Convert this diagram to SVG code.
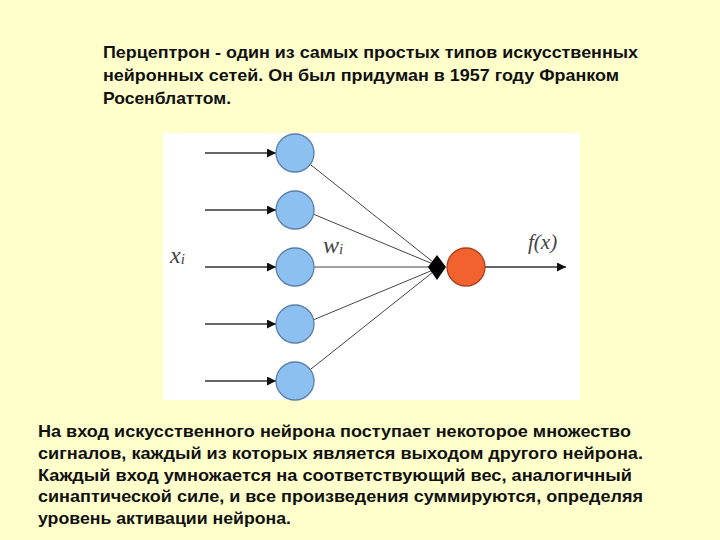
<svg xmlns="http://www.w3.org/2000/svg" width="720" height="540" viewBox="0 0 720 540">
<style>
.t{font-family:"Liberation Sans",Arial,sans-serif;font-weight:bold;font-size:17px;fill:#111}
.in{fill:#8cc0f0;stroke:#5a7fa8;stroke-width:1.3}
.out{fill:#f2622e;stroke:#a8401c;stroke-width:1.3}
.w{stroke:#444;stroke-width:1;fill:none}
.a{stroke:#333;stroke-width:1.4;fill:none}
.m{font-family:"Liberation Serif","Times New Roman",serif;font-style:italic;fill:#444}
</style>
<defs>
<marker id="ah" viewBox="0 0 10 10" refX="10" refY="5" markerWidth="18" markerHeight="9" markerUnits="userSpaceOnUse" orient="auto">
<path d="M0,0 L10,5 L0,10 z" fill="#111"/>
</marker>
</defs>
<rect width="720" height="540" fill="#ffffcc"/>
<g id="title">
<text class="t" x="103" y="58" textLength="535" lengthAdjust="spacingAndGlyphs">Перцептрон - один из самых простых типов искусственных</text>
<text class="t" x="103" y="81" textLength="516" lengthAdjust="spacingAndGlyphs">нейронных сетей. Он был придуман в 1957 году Франком</text>
<text class="t" x="103" y="104" textLength="128" lengthAdjust="spacingAndGlyphs">Росенблаттом.</text>
</g>
<rect x="163" y="133" width="417" height="267" fill="#ffffff"/>
<g id="connectors">
<line class="a" x1="205" y1="153" x2="276" y2="153" marker-end="url(#ah)"/>
<line class="a" x1="205" y1="210" x2="276" y2="210" marker-end="url(#ah)"/>
<line class="a" x1="205" y1="267" x2="276" y2="267" marker-end="url(#ah)"/>
<line class="a" x1="205" y1="324" x2="276" y2="324" marker-end="url(#ah)"/>
<line class="a" x1="205" y1="381" x2="276" y2="381" marker-end="url(#ah)"/>
<line class="w" x1="311" y1="165" x2="433" y2="262"/>
<line class="w" x1="313" y1="214" x2="433" y2="264"/>
<line class="w" x1="314" y1="267" x2="433" y2="267"/>
<line class="w" x1="313" y1="320" x2="433" y2="270"/>
<line class="w" x1="311" y1="369" x2="433" y2="272"/>
<line class="a" x1="485" y1="267" x2="566" y2="267" marker-end="url(#ah)"/>
</g>
<g id="inputs">
<circle class="in" cx="295" cy="153" r="19"/>
<circle class="in" cx="295" cy="210" r="19"/>
<circle class="in" cx="295" cy="267" r="19"/>
<circle class="in" cx="295" cy="324" r="19"/>
<circle class="in" cx="295" cy="381" r="19"/>
</g>
<g id="sum">
<path d="M437,255 L446,267 L437,280 L428,267 z" fill="#000"/>
</g>
<g id="output">
<circle class="out" cx="466" cy="267" r="19"/>
</g>
<g id="labels">
<text class="m" x="170" y="263" font-size="24">x<tspan font-size="15" dy="1">i</tspan></text>
<text class="m" x="323" y="253" font-size="24">w<tspan font-size="15" dy="1">i</tspan></text>
<text class="m" x="528" y="249" font-size="21">f(x)</text>
</g>
<g id="body">
<text class="t" x="38" y="437" textLength="593" lengthAdjust="spacingAndGlyphs">На вход искусственного нейрона поступает некоторое множество</text>
<text class="t" x="38" y="459" textLength="605" lengthAdjust="spacingAndGlyphs">сигналов, каждый из которых является выходом другого нейрона.</text>
<text class="t" x="38" y="481" textLength="594" lengthAdjust="spacingAndGlyphs">Каждый вход умножается на соответствующий вес, аналогичный</text>
<text class="t" x="38" y="502" textLength="605" lengthAdjust="spacingAndGlyphs">синаптической силе, и все произведения суммируются, определяя</text>
<text class="t" x="38" y="524" textLength="253" lengthAdjust="spacingAndGlyphs">уровень активации нейрона.</text>
</g>
</svg>
